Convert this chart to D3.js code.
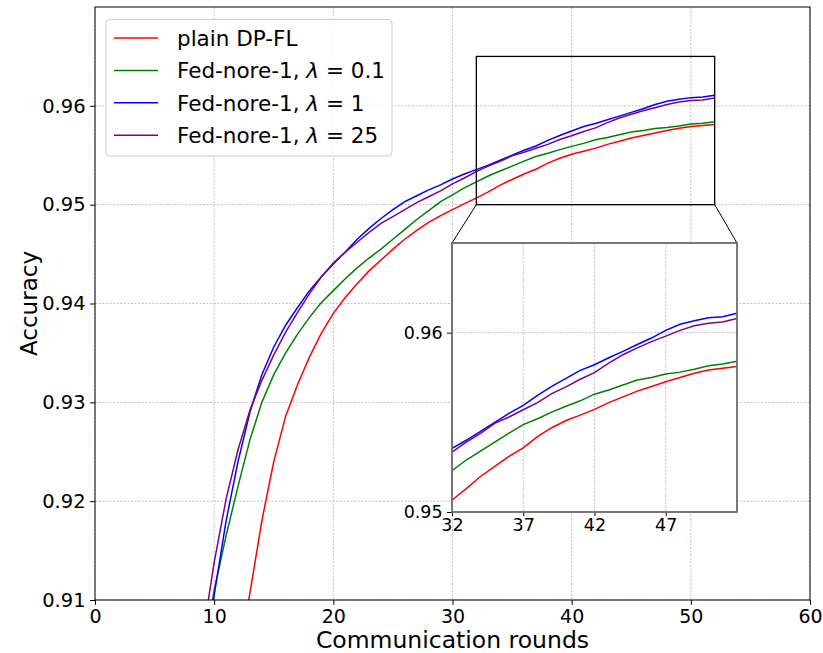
<!DOCTYPE html>
<html>
<head>
<meta charset="utf-8">
<script src="https://cdn.jsdelivr.net/npm/d3@7"></script>
<style>
  body { margin: 0; background: #fff; }
  svg { font-family: "DejaVu Sans", sans-serif; }
</style>
</head>
<body>
<div id="chart"></div>
<script>
// communication rounds 8..52 (values below 0.91 are clipped by the axes)
const rounds = d3.range(8, 53);

const plainDP = [0.862, 0.873, 0.884, 0.894, 0.9035, 0.9107, 0.9180, 0.9240, 0.9286, 0.9318,
  0.9346, 0.9370, 0.9390, 0.9406, 0.9420, 0.9433, 0.9444, 0.9455, 0.9465, 0.9474,
  0.9482, 0.9489, 0.9495, 0.9501, 0.95066, 0.9513, 0.95198, 0.95255, 0.9531, 0.95358,
  0.9542, 0.9547, 0.9551, 0.9554, 0.95572, 0.9561, 0.95642, 0.95674, 0.9570, 0.95726,
  0.9575, 0.95774, 0.95792, 0.95802, 0.95811];

const lambda01 = [0.892, 0.9040, 0.9110, 0.9165, 0.9215, 0.9262, 0.9300, 0.9328, 0.9350, 0.9369,
  0.9386, 0.9401, 0.9413, 0.9425, 0.9436, 0.9446, 0.9455, 0.9465, 0.9475, 0.9485,
  0.9494, 0.9503, 0.9510, 0.9517, 0.9523, 0.9529, 0.9534, 0.9539, 0.9544, 0.95487,
  0.9552, 0.95557, 0.9559, 0.9562, 0.95657, 0.9568, 0.95708, 0.95736, 0.9575, 0.9577,
  0.9578, 0.95796, 0.95815, 0.95825, 0.9584];

const lambda1 = [0.888, 0.900, 0.9105, 0.9180, 0.9240, 0.9290, 0.9328, 0.9356, 0.9378, 0.9396,
  0.9413, 0.9427, 0.9440, 0.9452, 0.9465, 0.9476, 0.9486, 0.9495, 0.9503, 0.9509,
  0.9515, 0.9520, 0.9526, 0.9531, 0.95355, 0.9540, 0.9545, 0.9550, 0.9555, 0.95594,
  0.9565, 0.9570, 0.95745, 0.9579, 0.95821, 0.9586, 0.95896, 0.95934, 0.9597, 0.96013,
  0.96047, 0.96066, 0.96083, 0.96089, 0.96108];

const lambda25 = [0.893, 0.9060, 0.9138, 0.9202, 0.9252, 0.9292, 0.9322, 0.9348, 0.9371, 0.9391,
  0.9410, 0.9427, 0.9441, 0.9452, 0.9462, 0.9472, 0.9481, 0.9488, 0.9495, 0.9502,
  0.9508, 0.9514, 0.9521, 0.9527, 0.95334, 0.9539, 0.95438, 0.95494, 0.9553, 0.9557,
  0.9561, 0.9566, 0.95698, 0.9574, 0.95777, 0.9583, 0.95877, 0.95915, 0.9595, 0.95981,
  0.96013, 0.96038, 0.96053, 0.9606, 0.96079];

const seriesNames = ["plain DP-FL", "Fed-nore-1, ", "Fed-nore-1, ", "Fed-nore-1, "];
const seriesLambda = [null, "0.1", "1", "25"];
const seriesColors = ["#ff0000", "#008000", "#0000ff", "#800080"];

const xTicks = [0, 10, 20, 30, 40, 50, 60];
const yTicks = [0.91, 0.92, 0.93, 0.94, 0.95, 0.96];
const insetXTicks = [32, 37, 42, 47];
const insetYTicks = [0.95, 0.96];

const W = 823, H = 653;
const plot = { left: 95, right: 810, top: 7, bottom: 600 };
const inset = { left: 452, right: 737, top: 243, bottom: 512 };
const zoomBox = { x0: 32, x1: 52, y0: 0.95, y1: 0.965 };

const allSeries = [plainDP, lambda01, lambda1, lambda25];

const svg = d3.select("#chart").append("svg")
  .attr("width", W).attr("height", H);

svg.append("rect").attr("width", W).attr("height", H).attr("fill", "white");

const x = d3.scaleLinear().domain([0, 60]).range([plot.left, plot.right]);
const y = d3.scaleLinear().domain([0.91, 0.97]).range([plot.bottom, plot.top]);

const defs = svg.append("defs");
defs.append("clipPath").attr("id", "clip-main")
  .append("rect")
  .attr("x", plot.left).attr("y", plot.top)
  .attr("width", plot.right - plot.left).attr("height", plot.bottom - plot.top);
defs.append("clipPath").attr("id", "clip-inset")
  .append("rect")
  .attr("x", inset.left).attr("y", inset.top)
  .attr("width", inset.right - inset.left).attr("height", inset.bottom - inset.top);

// grid
const gridStyle = g => g
  .attr("stroke", "#b0b0b0")
  .attr("stroke-width", 0.8)
  .attr("stroke-dasharray", "2,1.6");

svg.append("g").call(gridStyle)
  .selectAll("line").data(xTicks).enter().append("line")
  .attr("x1", d => x(d)).attr("x2", d => x(d))
  .attr("y1", plot.top).attr("y2", plot.bottom);
svg.append("g").call(gridStyle)
  .selectAll("line").data(yTicks).enter().append("line")
  .attr("x1", plot.left).attr("x2", plot.right)
  .attr("y1", d => y(d)).attr("y2", d => y(d));

// lines
const line = d3.line()
  .x((d, i) => x(rounds[i]))
  .y(d => y(d));

svg.append("g").attr("clip-path", "url(#clip-main)")
  .selectAll("path").data(allSeries).enter().append("path")
  .attr("fill", "none")
  .attr("stroke", (d, i) => seriesColors[i])
  .attr("stroke-width", 1.5)
  .attr("d", line);

// zoom indicator + connectors
svg.append("rect")
  .attr("x", x(zoomBox.x0)).attr("y", y(zoomBox.y1))
  .attr("width", x(zoomBox.x1) - x(zoomBox.x0))
  .attr("height", y(zoomBox.y0) - y(zoomBox.y1))
  .attr("fill", "none").attr("stroke", "black").attr("stroke-width", 1.3);

svg.append("line")
  .attr("x1", x(zoomBox.x0)).attr("y1", y(zoomBox.y0))
  .attr("x2", inset.left).attr("y2", inset.top)
  .attr("stroke", "black").attr("stroke-width", 1);
svg.append("line")
  .attr("x1", x(zoomBox.x1)).attr("y1", y(zoomBox.y0))
  .attr("x2", inset.right).attr("y2", inset.top)
  .attr("stroke", "black").attr("stroke-width", 1);

// main axes
const axStyle = size => g => g
  .call(g => g.selectAll("text").attr("font-size", size).attr("fill", "black").attr("font-family", "DejaVu Sans"))
  .call(g => g.selectAll("line").attr("stroke", "black").attr("stroke-width", 1));

svg.append("g")
  .attr("transform", `translate(0,${plot.bottom})`)
  .call(d3.axisBottom(x).tickValues(xTicks).tickSize(4.9).tickPadding(4.2).tickFormat(d3.format("d")))
  .call(g => g.select(".domain").remove())
  .call(axStyle(19));
svg.append("g")
  .attr("transform", `translate(${plot.left},0)`)
  .call(d3.axisLeft(y).tickValues(yTicks).tickSize(4.9).tickPadding(4.5).tickFormat(d3.format(".2f")))
  .call(g => g.select(".domain").remove())
  .call(axStyle(19.5));

svg.append("rect")
  .attr("x", plot.left).attr("y", plot.top)
  .attr("width", plot.right - plot.left).attr("height", plot.bottom - plot.top)
  .attr("fill", "none").attr("stroke", "black").attr("stroke-width", 1);

svg.append("text")
  .attr("x", (plot.left + plot.right) / 2).attr("y", 648)
  .attr("text-anchor", "middle").attr("font-size", 23.5)
  .text("Communication rounds");
svg.append("text")
  .attr("transform", `translate(37,${(plot.top + plot.bottom) / 2}) rotate(-90)`)
  .attr("text-anchor", "middle").attr("font-size", 23)
  .text("Accuracy");

// legend
const legend = svg.append("g").attr("class", "legend");
legend.append("rect")
  .attr("x", 106).attr("y", 19.5).attr("width", 286).attr("height", 136.5)
  .attr("rx", 4)
  .attr("fill", "white").attr("fill-opacity", 0.8)
  .attr("stroke", "#cccccc").attr("stroke-width", 1);

const rowY = i => 38 + i * 32.4;
legend.selectAll("line").data(seriesColors).enter().append("line")
  .attr("x1", 114).attr("x2", 158)
  .attr("y1", (d, i) => rowY(i)).attr("y2", (d, i) => rowY(i))
  .attr("stroke", d => d).attr("stroke-width", 1.5);

legend.selectAll("text").data(seriesNames).enter().append("text")
  .attr("x", 177).attr("y", (d, i) => rowY(i))
  .attr("dy", "0.36em")
  .attr("font-size", 21.5)
  .each(function(d, i) {
    const t = d3.select(this);
    t.append("tspan").text(d);
    if (seriesLambda[i] !== null) {
      t.append("tspan").attr("font-style", "italic").text("λ");
      t.append("tspan").text(" = " + seriesLambda[i]);
    }
  });

// inset
const xi = d3.scaleLinear().domain([zoomBox.x0, zoomBox.x1]).range([inset.left, inset.right]);
const yi = d3.scaleLinear().domain([zoomBox.y0, zoomBox.y1]).range([inset.bottom, inset.top]);

const ins = svg.append("g").attr("class", "inset");
ins.append("rect")
  .attr("x", inset.left).attr("y", inset.top)
  .attr("width", inset.right - inset.left).attr("height", inset.bottom - inset.top)
  .attr("fill", "white");

ins.append("g").call(gridStyle)
  .selectAll("line").data(insetXTicks).enter().append("line")
  .attr("x1", d => xi(d)).attr("x2", d => xi(d))
  .attr("y1", inset.top).attr("y2", inset.bottom);
ins.append("g").call(gridStyle)
  .selectAll("line").data(insetYTicks).enter().append("line")
  .attr("x1", inset.left).attr("x2", inset.right)
  .attr("y1", d => yi(d)).attr("y2", d => yi(d));

const lineInset = d3.line()
  .x((d, i) => xi(rounds[i]))
  .y(d => yi(d));

ins.append("g").attr("clip-path", "url(#clip-inset)")
  .selectAll("path").data(allSeries).enter().append("path")
  .attr("fill", "none")
  .attr("stroke", (d, i) => seriesColors[i])
  .attr("stroke-width", 1.5)
  .attr("d", lineInset);

ins.append("g")
  .attr("transform", `translate(0,${inset.bottom})`)
  .call(d3.axisBottom(xi).tickValues(insetXTicks).tickSize(4).tickPadding(3).tickFormat(d3.format("d")))
  .call(g => g.select(".domain").remove())
  .call(axStyle(17.5));
ins.append("g")
  .attr("transform", `translate(${inset.left},0)`)
  .call(d3.axisLeft(yi).tickValues(insetYTicks).tickSize(4.9).tickPadding(4.5).tickFormat(d3.format(".2f")))
  .call(g => g.select(".domain").remove())
  .call(axStyle(17.5));

ins.append("rect")
  .attr("x", inset.left).attr("y", inset.top)
  .attr("width", inset.right - inset.left).attr("height", inset.bottom - inset.top)
  .attr("fill", "none").attr("stroke", "#6a6a6a").attr("stroke-width", 1.8);
</script>
</body>
</html>
